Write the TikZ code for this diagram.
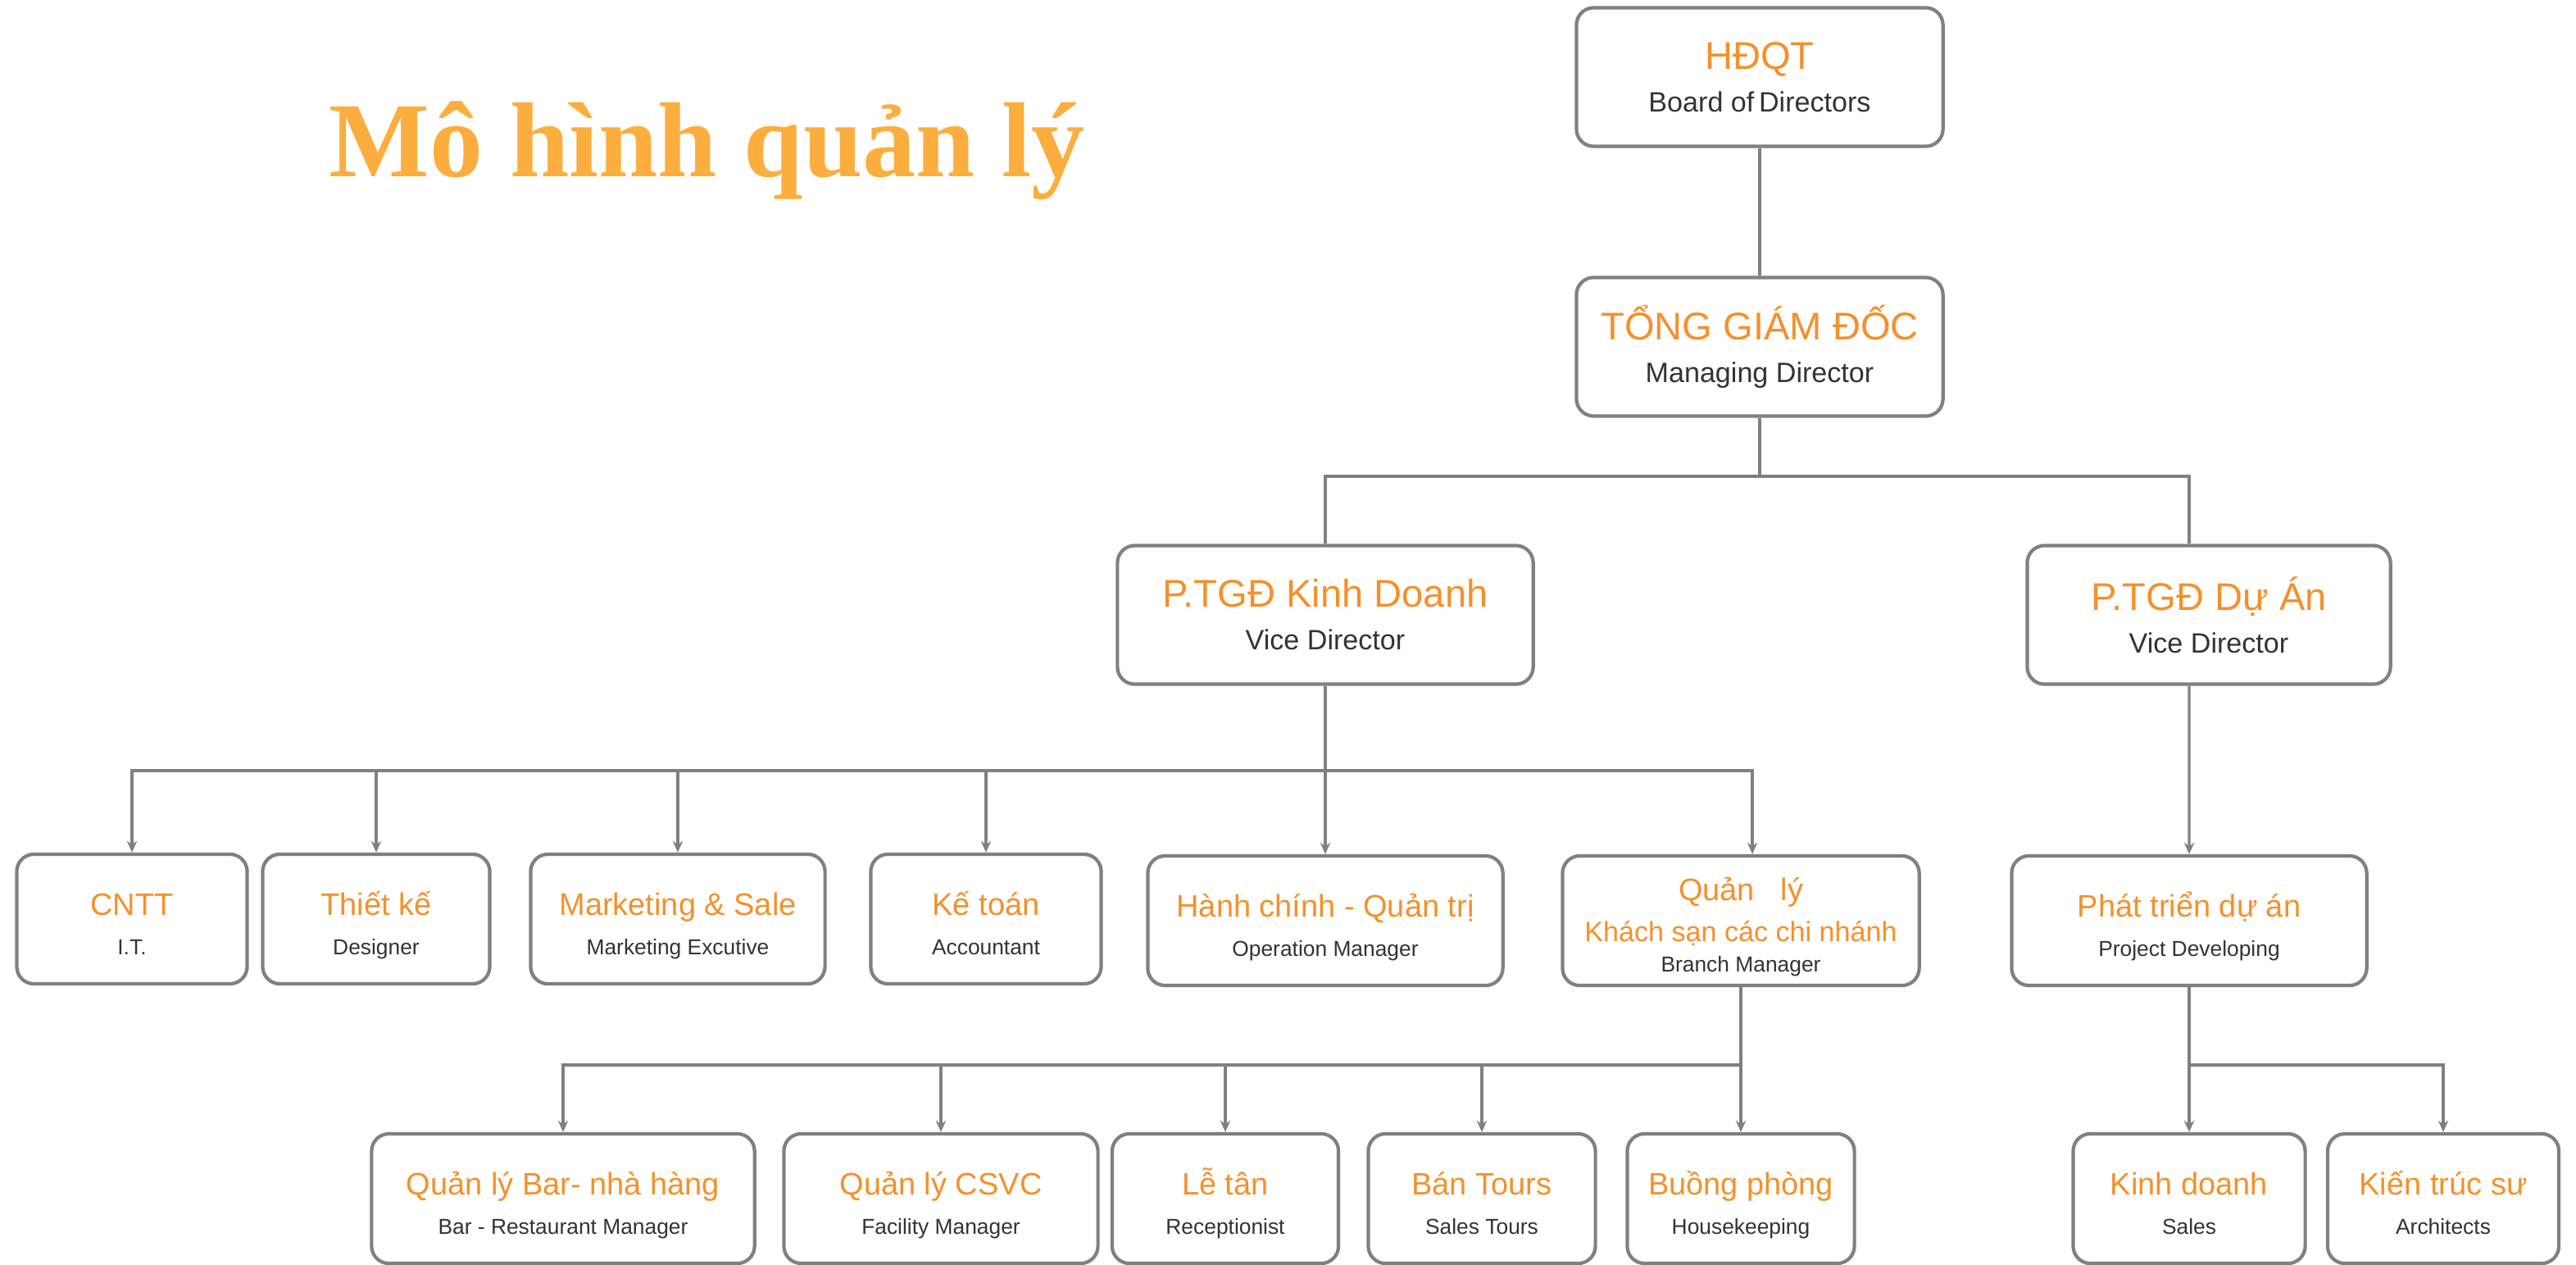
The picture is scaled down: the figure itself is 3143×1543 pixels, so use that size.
\documentclass[tikz,border=0pt]{standalone}
\usepackage{fontspec}
\setmainfont{Liberation Sans}
\newfontfamily\titlefont{Liberation Serif}
\usetikzlibrary{arrows.meta}

\definecolor{titleorange}{HTML}{FBAE3E}
\definecolor{lblorange}{HTML}{F5902A}
\definecolor{subgray}{HTML}{333333}
\definecolor{linegray}{HTML}{808080}

% text of the boxes
\newcommand{\bigname}[1]{{\color{lblorange}\fontsize{13.4}{14.8}\selectfont #1}}
\newcommand{\bigsub}[1]{{\color{subgray}\fontsize{9.7}{14.8}\selectfont #1}}
\newcommand{\name}[1]{{\color{lblorange}\fontsize{10.8}{13.6}\selectfont\rule{0pt}{12.5pt}#1}}
\newcommand{\sub}[1]{{\color{subgray}\fontsize{7.5}{13.6}\selectfont #1\rule[-1.5pt]{0pt}{1.5pt}}}

\tikzset{
  box/.style={draw=linegray, line width=1.2pt, rounded corners=6pt, fill=white,
    align=center, inner sep=1pt},
  topbox/.style={box, minimum height=1.69cm, font=\fontsize{9.7}{14.8}\selectfont},
  unitbox/.style={box, minimum height=1.58cm, font=\fontsize{7.5}{13.6}\selectfont},
  conn/.style={draw=linegray, line width=0.9pt},
  arrow/.style={conn, -{Stealth[length=4pt,width=3.5pt]}}
}

\begin{document}
\begin{tikzpicture}[x=0.01cm, y=-0.01cm]
  \useasboundingbox (0,0) rectangle (3143,1543);

  % Title
  \node[anchor=base west, inner sep=0pt, text=titleorange,
    font=\titlefont\bfseries\fontsize{37}{40}\selectfont] (title) at (401,216) {Mô hình quản lý};

  % Top management
  \node[topbox, minimum width=4.47cm] (hdqt) at (2147,94) {\bigname{HĐQT}\\\bigsub{Board of\,Directors}};
  \node[topbox, minimum width=4.47cm] (tgd) at (2147,423) {\bigname{TỔNG GIÁM ĐỐC}\\\bigsub{Managing Director}};
  \node[topbox, minimum width=5.07cm] (kd) at (1617,750) {\bigname{P.TGĐ Kinh Doanh}\\\bigsub{Vice Director}};
  \node[topbox, minimum width=4.43cm] (da) at (2695,750) {\bigname{P.TGĐ Dự Án}\\\bigsub{Vice Director}};

  % Departments
  \node[unitbox, minimum width=2.81cm] (cntt) at (161,1121) {\name{CNTT}\\\sub{I.T.}};
  \node[unitbox, minimum width=2.77cm] (tk) at (459,1121) {\name{Thiết kế}\\\sub{Designer}};
  \node[unitbox, minimum width=3.59cm] (mkt) at (827,1121) {\name{Marketing \& Sale}\\\sub{Marketing Excutive}};
  \node[unitbox, minimum width=2.81cm] (kt) at (1203,1121) {\name{Kế toán}\\\sub{Accountant}};
  \node[unitbox, minimum width=4.33cm] (hc) at (1617,1123) {\name{Hành chính - Quản trị}\\\sub{Operation Manager}};
  \node[unitbox, minimum width=4.35cm] (qlks) at (2124,1123)
    {\name{Quản~~~lý}\\[0.6pt]{\color{lblorange}\fontsize{9.7}{13}\selectfont Khách sạn các chi nhánh}\\[-3pt]\sub{Branch Manager}};
  \node[unitbox, minimum width=4.33cm] (ptda) at (2671,1123) {\name{Phát triển dự án}\\\sub{Project Developing}};

  % Hotel units
  \node[unitbox, minimum width=4.67cm] (bar) at (687,1462) {\name{Quản lý Bar- nhà hàng}\\\sub{Bar - Restaurant Manager}};
  \node[unitbox, minimum width=3.83cm] (csvc) at (1148,1462) {\name{Quản lý CSVC}\\\sub{Facility Manager}};
  \node[unitbox, minimum width=2.76cm] (letan) at (1495,1462) {\name{Lễ tân}\\\sub{Receptionist}};
  \node[unitbox, minimum width=2.77cm] (tours) at (1808,1462) {\name{Bán Tours}\\\sub{Sales Tours}};
  \node[unitbox, minimum width=2.77cm] (buong) at (2124,1462) {\name{Buồng phòng}\\\sub{Housekeeping}};

  % Project units
  \node[unitbox, minimum width=2.83cm] (kdoanh) at (2671,1462) {\name{Kinh doanh}\\\sub{Sales}};
  \node[unitbox, minimum width=2.82cm] (kts) at (2981,1462) {\name{Kiến trúc sư}\\\sub{Architects}};

  % Bus points
  \coordinate (bus1) at (2147,581);
  \coordinate (bus2) at (1617,940);
  \coordinate (bus3) at (2124,1299);
  \coordinate (bus4) at (2671,1299);

  % Connectors, top
  \draw[conn] (hdqt) -- (tgd);
  \draw[conn] (tgd) -- (bus1);
  \draw[conn] (kd) |- (bus1) -| ([xshift=-0.24cm]da.north);

  % Connectors, departments
  \draw[arrow] (kd) -- (hc);
  \draw[arrow] (bus2) -| (cntt);
  \draw[arrow] (bus2) -| (tk);
  \draw[arrow] (bus2) -| (mkt);
  \draw[arrow] (bus2) -| (kt);
  \draw[arrow] (bus2) -| ([xshift=0.14cm]qlks.north);
  \draw[arrow] ([xshift=-0.24cm]da.south) -- (ptda);

  % Connectors, bottom row
  \draw[arrow] (qlks) -- (buong);
  \draw[arrow] (bus3) -| (bar);
  \draw[arrow] (bus3) -| (csvc);
  \draw[arrow] (bus3) -| (letan);
  \draw[arrow] (bus3) -| (tours);
  \draw[arrow] (ptda) -- (kdoanh);
  \draw[arrow] (bus4) -| (kts);
\end{tikzpicture}
\end{document}
